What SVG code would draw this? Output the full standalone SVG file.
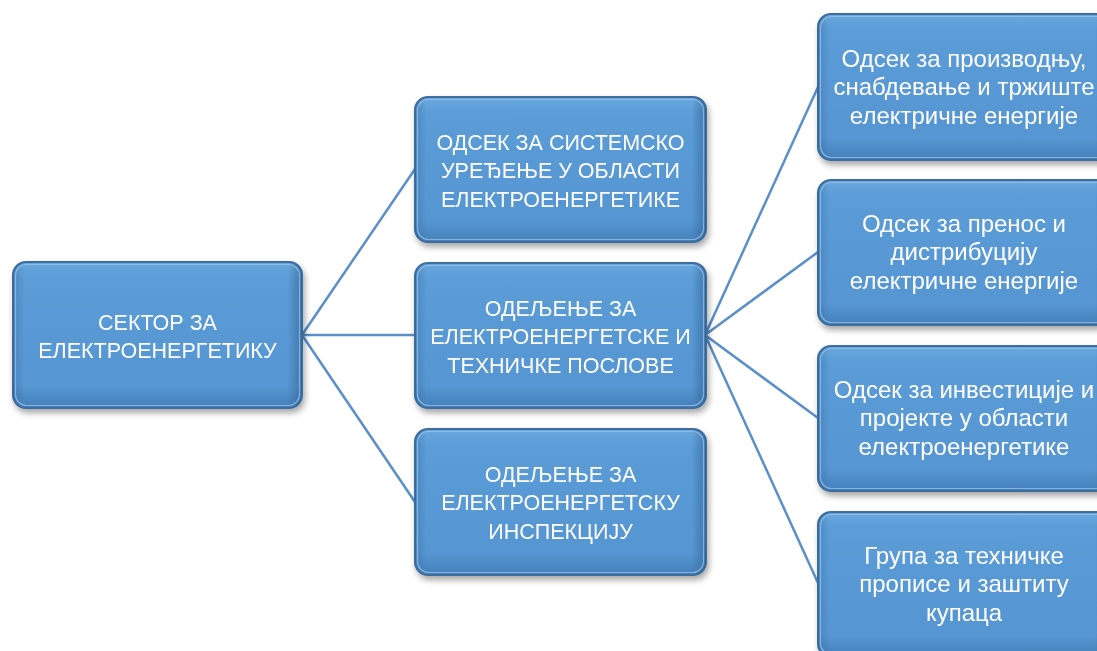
<svg xmlns="http://www.w3.org/2000/svg" width="1097" height="651" viewBox="0 0 1097 651">
<defs>
<linearGradient id="fillV" x1="0" y1="0" x2="0" y2="1">
<stop offset="0" stop-color="#6aa8de"/>
<stop offset="0.12" stop-color="#5b9cd7"/>
<stop offset="0.85" stop-color="#5696d2"/>
<stop offset="1" stop-color="#4580ba"/>
</linearGradient>
<linearGradient id="edgeH" x1="0" y1="0" x2="1" y2="0">
<stop offset="0" stop-color="#2f5f8f" stop-opacity="0.35"/>
<stop offset="0.04" stop-color="#2f5f8f" stop-opacity="0"/>
<stop offset="0.95" stop-color="#2f5f8f" stop-opacity="0"/>
<stop offset="1" stop-color="#2f5f8f" stop-opacity="0.6"/>
</linearGradient>
<filter id="sh" x="-10%" y="-10%" width="125%" height="130%">
<feGaussianBlur in="SourceAlpha" stdDeviation="3"/>
<feOffset dx="2" dy="4" result="b"/>
<feComponentTransfer><feFuncA type="linear" slope="0.35"/></feComponentTransfer>
<feMerge><feMergeNode/><feMergeNode in="SourceGraphic"/></feMerge>
</filter>
</defs>
<style>
.box{fill:url(#fillV);stroke:#3d6e9e;stroke-width:2;}
.edge{fill:url(#edgeH);}
.hl{fill:none;stroke:#9cc6ec;stroke-width:1.2;opacity:0.7;}
.t{font-family:"Liberation Sans",Arial,sans-serif;font-size:21.5px;fill:#ffffff;text-anchor:middle;}
.l{font-size:24px;}
.conn line{stroke:#5a8fca;stroke-width:2.5;}
</style>
<g class="conn" id="connectors">
<line x1="302" y1="335" x2="415" y2="169"/>
<line x1="302" y1="335" x2="415" y2="335"/>
<line x1="302" y1="335" x2="415" y2="502"/>
<line x1="705" y1="335" x2="818" y2="87"/>
<line x1="705" y1="335" x2="818" y2="252"/>
<line x1="705" y1="335" x2="818" y2="418"/>
<line x1="705" y1="335" x2="818" y2="583"/>
</g>
<g id="root" filter="url(#sh)">
<rect class="box" x="13" y="262" width="289" height="146" rx="13"/>
<rect class="edge" x="13" y="262" width="289" height="146" rx="13"/>
<rect class="hl" x="15.5" y="264.5" width="284" height="141" rx="11"/>
<text class="t" x="157.5" y="330">СЕКТОР ЗА</text>
<text class="t" x="157.5" y="358">ЕЛЕКТРОЕНЕРГЕТИКУ</text>
</g>
<g id="m1" filter="url(#sh)">
<rect class="box" x="415" y="97" width="291" height="145" rx="13"/>
<rect class="edge" x="415" y="97" width="291" height="145" rx="13"/>
<rect class="hl" x="417.5" y="99.5" width="286" height="140" rx="11"/>
<text class="t" x="560.5" y="150">ОДСЕК ЗА СИСТЕМСКО</text>
<text class="t" x="560.5" y="178">УРЕЂЕЊЕ У ОБЛАСТИ</text>
<text class="t" x="560.5" y="207">ЕЛЕКТРОЕНЕРГЕТИКЕ</text>
</g>
<g id="m2" filter="url(#sh)">
<rect class="box" x="415" y="263" width="291" height="145" rx="13"/>
<rect class="edge" x="415" y="263" width="291" height="145" rx="13"/>
<rect class="hl" x="417.5" y="265.5" width="286" height="140" rx="11"/>
<text class="t" x="560.5" y="316">ОДЕЉЕЊЕ ЗА</text>
<text class="t" x="560.5" y="344">ЕЛЕКТРОЕНЕРГЕТСКЕ И</text>
<text class="t" x="560.5" y="373">ТЕХНИЧКЕ ПОСЛОВЕ</text>
</g>
<g id="m3" filter="url(#sh)">
<rect class="box" x="415" y="429" width="291" height="146" rx="13"/>
<rect class="edge" x="415" y="429" width="291" height="146" rx="13"/>
<rect class="hl" x="417.5" y="431.5" width="286" height="141" rx="11"/>
<text class="t" x="560.5" y="482">ОДЕЉЕЊЕ ЗА</text>
<text class="t" x="560.5" y="510">ЕЛЕКТРОЕНЕРГЕТСКУ</text>
<text class="t" x="560.5" y="539">ИНСПЕКЦИЈУ</text>
</g>
<g id="r1" filter="url(#sh)">
<rect class="box" x="818" y="14" width="292" height="146" rx="13"/>
<rect class="edge" x="818" y="14" width="292" height="146" rx="13"/>
<rect class="hl" x="820.5" y="16.5" width="287" height="141" rx="11"/>
<text class="t l" x="964" y="67">Одсек за производњу,</text>
<text class="t l" x="964" y="95">снабдевање и тржиште</text>
<text class="t l" x="964" y="124">електричне енергије</text>
</g>
<g id="r2" filter="url(#sh)">
<rect class="box" x="818" y="180" width="292" height="145" rx="13"/>
<rect class="edge" x="818" y="180" width="292" height="145" rx="13"/>
<rect class="hl" x="820.5" y="182.5" width="287" height="140" rx="11"/>
<text class="t l" x="964" y="232">Одсек за пренос и</text>
<text class="t l" x="964" y="260">дистрибуцију</text>
<text class="t l" x="964" y="289">електричне енергије</text>
</g>
<g id="r3" filter="url(#sh)">
<rect class="box" x="818" y="346" width="292" height="145" rx="13"/>
<rect class="edge" x="818" y="346" width="292" height="145" rx="13"/>
<rect class="hl" x="820.5" y="348.5" width="287" height="140" rx="11"/>
<text class="t l" x="964" y="398">Одсек за инвестиције  и</text>
<text class="t l" x="964" y="426">пројекте у области</text>
<text class="t l" x="964" y="455">електроенергетике</text>
</g>
<g id="r4" filter="url(#sh)">
<rect class="box" x="818" y="512" width="292" height="145" rx="13"/>
<rect class="edge" x="818" y="512" width="292" height="145" rx="13"/>
<rect class="hl" x="820.5" y="514.5" width="287" height="140" rx="11"/>
<text class="t l" x="964" y="564">Група за техничке</text>
<text class="t l" x="964" y="592">прописе и заштиту</text>
<text class="t l" x="964" y="621">купаца</text>
</g>
</svg>
